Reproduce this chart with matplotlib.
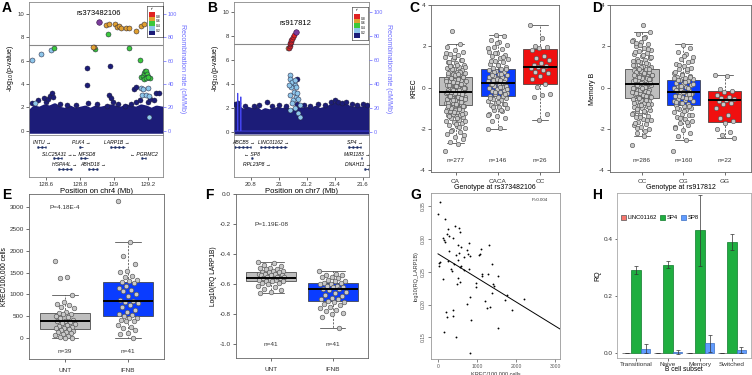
import numpy as np
import matplotlib
matplotlib.use("Agg")
import matplotlib.pyplot as plt
from matplotlib.patches import Rectangle

plt.rcParams['font.family'] = ['Liberation Sans', 'DejaVu Sans']
plt.rcParams['axes.unicode_minus'] = False

# ---------------- A: chr4 locus (rs373482106) ----------------
A_env_x = [128.50, 128.53, 128.56, 128.59, 128.62, 128.65, 128.68, 128.71, 128.74, 128.77, 128.80,
           128.83, 128.86, 128.89, 128.92, 128.95, 128.98, 129.01, 129.04, 129.07, 129.10, 129.13,
           129.16, 129.19, 129.22, 129.25, 129.29]
A_env_y = [1.6, 2.0, 1.9, 2.1, 2.0, 2.2, 1.9, 1.8, 2.0, 1.8, 1.9, 2.0, 1.8, 2.0, 1.9, 2.0, 2.1, 2.0,
           1.9, 2.1, 2.0, 1.9, 2.1, 2.0, 1.8, 2.0, 1.9]
A_navy = [(128.518, 2.37), (128.553, 2.6), (128.586, 2.8), (128.60, 2.5), (128.612, 2.7),
          (128.625, 2.95), (128.635, 3.2), (128.641, 2.9), (128.682, 2.3), (128.722, 2.2),
          (128.78, 2.2), (128.849, 2.37), (128.898, 2.3), (128.957, 2.15), (128.973, 3.08),
          (128.982, 2.8), (128.996, 2.5), (129.025, 2.3), (129.065, 2.15), (129.104, 2.3),
          (129.12, 3.6), (129.13, 3.75), (129.133, 2.5), (129.153, 2.6), (129.2, 2.5),
          (129.216, 2.7), (129.235, 2.6), (129.251, 3.25), (129.269, 3.2),
          (128.839, 5.36), (128.839, 3.93), (128.976, 5.58)]
A_lblue = [(128.516, 6.07), (128.572, 6.55), (128.628, 6.92), (129.163, 3.65), (129.172, 3.55),
           (129.20, 3.65), (129.168, 3.1), (129.188, 3.05), (129.205, 2.95), (128.535, 2.37),
           (129.21, 1.17)]
A_green = [(128.647, 7.07), (128.967, 8.26), (128.892, 7.0), (129.088, 7.04), (129.153, 6.07),
           (129.163, 4.59), (129.172, 4.7), (129.18, 4.95), (129.184, 5.13), (129.19, 5.07),
           (129.196, 4.87), (129.204, 4.64), (129.212, 4.5), (129.176, 4.45), (129.19, 4.5),
           (129.20, 4.6)]
A_orange = [(128.953, 9.06), (128.969, 9.14), (129.006, 9.11), (129.016, 8.85), (129.031, 8.97),
            (129.045, 8.74), (129.073, 8.77), (129.088, 8.74), (129.129, 8.52), (129.161, 8.97),
            (129.176, 9.12), (128.884, 7.2), (128.878, 7.12)]
A_red = []
A_lead = (128.912, 9.3)
A_genes = ['INTU', 'PLK4', 'LARP1B', 'SLC25A31', 'MFSD8', 'PGRMC2', 'HSPA4L', 'ABHD18']
A_gstart = [128.549, 128.794, 128.976, 128.643, 128.80, 129.163, 128.672, 128.849]
A_gend = [128.60, 128.82, 129.065, 128.692, 128.849, 129.192, 128.751, 128.908]
A_gstrand = ['+', '+', '+', '+', '-', '-', '+', '+']
A_grow = [0, 0, 0, 1, 1, 1, 2, 2]

# ---------------- B: chr7 locus (rs917812) ----------------
B_env_x = [20.68, 20.70, 20.72, 20.75, 20.78, 20.81, 20.84, 20.87, 20.90, 20.93, 20.96, 20.99,
           21.02, 21.05, 21.08, 21.11, 21.14, 21.17, 21.20, 21.23, 21.26, 21.29, 21.32, 21.35,
           21.38, 21.41, 21.44, 21.47, 21.50, 21.53, 21.56, 21.59, 21.62, 21.643]
B_env_y = [2.0, 2.2, 1.9, 1.7, 1.9, 1.8, 1.9, 1.6, 1.8, 1.7, 1.8, 1.9, 1.8, 1.9, 1.7, 1.8, 2.0,
           1.8, 1.9, 1.8, 2.0, 1.8, 1.9, 2.0, 2.2, 2.3, 2.1, 2.2, 2.0, 1.9, 2.0, 1.9, 2.0, 1.9]
B_navy = [(20.69, 2.3), (20.71, 2.4), (20.76, 2.1), (20.82, 2.1), (20.86, 2.2), (20.917, 2.5),
          (20.95, 2.1), (21.0, 2.2), (21.05, 2.1), (21.13, 2.3), (21.18, 2.2), (21.22, 2.1),
          (21.28, 2.3), (21.33, 2.2), (21.37, 2.5), (21.40, 2.6), (21.42, 2.5), (21.45, 2.4),
          (21.48, 2.5), (21.52, 2.3), (21.56, 2.2), (21.60, 2.3), (21.63, 2.2), (21.131, 4.36)]
B_lblue = [(21.076, 4.69), (21.083, 4.36), (21.093, 4.11), (21.112, 3.89), (21.124, 3.69),
           (21.088, 3.69), (21.105, 3.33), (21.083, 3.06), (21.119, 2.92), (21.136, 2.69),
           (21.10, 2.64), (21.148, 2.22), (21.117, 1.94), (21.083, 1.81), (21.136, 1.53),
           (21.148, 1.25), (21.093, 2.36), (21.126, 3.25), (21.071, 3.89), (21.112, 4.3)]
B_green = []
B_orange = [(21.067, 6.94)]
B_red = [(21.071, 7.0), (21.076, 7.17), (21.079, 7.3), (21.083, 7.42), (21.086, 7.5),
         (21.088, 7.6), (21.093, 7.75), (21.098, 7.92), (21.105, 8.05)]
B_lead = (21.119, 8.28)
B_recomb_x = [20.68, 20.705, 20.707, 20.709, 20.727, 20.729, 20.731, 21.643]
B_recomb_y = [0.5, 0.5, 32, 0.5, 0.5, 29, 0.5, 0.5]
B_genes = ['ABCB5', 'LINC01162', 'SP4', 'SP8', 'MIR1183', 'RPL23P8', 'DNAH11']
B_gstart = [20.683, 20.869, 21.493, 20.802, 21.585, 20.843, 21.61]
B_gend = [20.802, 21.06, 21.588, 20.814, 21.59, 20.847, 21.643]
B_gstrand = ['+', '+', '+', '-', '+', '+', '+']
B_grow = [0, 0, 0, 1, 1, 2, 2]

# ---------------- C: KREC by rs373482106 genotype ----------------
C_groups = ['CA', 'CACA', 'CC']
C_n = ['n=277', 'n=146', 'n=26']
C_box = [[-2.7, -0.85, -0.2, 0.5, 2.1], [-2.0, -0.4, 0.25, 0.88, 2.55], [-1.55, 0.18, 1.0, 1.87, 3.05]]
C_CA = [-3.05, -2.72, -2.62, -2.5, -2.38, -2.25, -2.15, -2.05, -1.95, -1.87, -1.8, -1.72, -1.66,
        -1.6, -1.54, -1.49, -1.44, -1.39, -1.34, -1.3, -1.26, -1.22, -1.18, -1.14, -1.1, -1.06,
        -1.02, -0.98, -0.94, -0.9, -0.86, -0.83, -0.8, -0.76, -0.72, -0.69, -0.66, -0.62, -0.58,
        -0.55, -0.52, -0.48, -0.45, -0.42, -0.38, -0.35, -0.32, -0.28, -0.25, -0.22, -0.18, -0.15,
        -0.12, -0.08, -0.05, -0.02, 0.02, 0.05, 0.08, 0.12, 0.15, 0.18, 0.22, 0.25, 0.28, 0.32,
        0.35, 0.38, 0.42, 0.45, 0.48, 0.52, 0.56, 0.6, 0.64, 0.68, 0.72, 0.76, 0.8, 0.85, 0.9,
        0.95, 1.0, 1.06, 1.12, 1.18, 1.25, 1.32, 1.4, 1.48, 1.56, 1.65, 1.75, 1.82, 1.95, 2.1, 2.75,
        -1.62, -1.47, -1.35, -1.28, -1.2, -1.12, -1.04, -0.96, -0.88, -0.81, -0.74, -0.67, -0.6,
        -0.53, -0.46, -0.4, -0.33, -0.27, -0.2, -0.13, -0.07, 0.0, 0.07, 0.13, 0.2, 0.27, 0.33,
        0.4, 0.47, 0.54, 0.62, 0.7, 0.78, 0.88, 0.98, 1.1, 1.22, 1.35, 1.5, 1.7, -1.9, -2.1, -2.3,
        -1.75, -0.9, -0.5, -0.1, 0.3, 0.65, 1.03]
C_CACA = [-2.02, -1.95, -1.6, -1.45, -1.35, -1.25, -1.15, -1.08, -1.0, -0.92, -0.85, -0.78, -0.72,
          -0.66, -0.6, -0.55, -0.5, -0.45, -0.4, -0.35, -0.3, -0.25, -0.2, -0.15, -0.1, -0.06,
          -0.02, 0.02, 0.06, 0.1, 0.14, 0.18, 0.22, 0.26, 0.3, 0.34, 0.38, 0.42, 0.46, 0.5, 0.54,
          0.58, 0.62, 0.66, 0.7, 0.75, 0.8, 0.85, 0.9, 0.96, 1.02, 1.08, 1.15, 1.22, 1.3, 1.38,
          1.45, 1.52, 1.6, 1.68, 1.75, 1.85, 1.95, 2.05, 2.2, 2.3, 2.5, 2.55,
          -1.3, -1.1, -0.95, -0.8, -0.68, -0.52, -0.38, -0.22, -0.08, 0.04, 0.16, 0.28, 0.4, 0.52,
          0.64, 0.77, 0.92, 1.1, 1.28, 1.48, 1.7, 1.9, 0.35, 0.6, -0.3, 2.15]
C_CC = [3.05, 2.4, 2.0, 1.95, 1.9, 1.8, 1.55, 1.45, 1.35, 1.2, 1.1, 1.05, 1.0, 0.95, 0.85, 0.75,
        0.7, 0.55, 0.4, 0.2, 0.05, -0.3, -0.35, -0.45, -1.25, -1.55]

# ---------------- D: Memory B by rs917812 genotype ----------------
D_groups = ['CC', 'CG', 'GG']
D_n = ['n=286', 'n=160', 'n=22']
D_box = [[-2.35, -0.5, 0.2, 0.9, 2.7], [-2.55, -0.82, -0.2, 0.38, 2.1], [-2.45, -1.65, -0.6, -0.18, 0.6]]
D_CC = [-2.75, -2.35, -2.2, -2.0, -1.9, -1.82, -1.75, -1.66, -1.58, -1.5, -1.43, -1.36, -1.3,
        -1.24, -1.18, -1.12, -1.06, -1.0, -0.95, -0.9, -0.85, -0.8, -0.75, -0.7, -0.65, -0.6,
        -0.55, -0.5, -0.45, -0.41, -0.37, -0.33, -0.29, -0.25, -0.21, -0.17, -0.13, -0.09, -0.05,
        -0.01, 0.03, 0.07, 0.11, 0.15, 0.19, 0.23, 0.27, 0.31, 0.35, 0.39, 0.43, 0.47, 0.51, 0.55,
        0.59, 0.63, 0.67, 0.71, 0.75, 0.8, 0.85, 0.9, 0.95, 1.0, 1.05, 1.1, 1.16, 1.22, 1.28,
        1.34, 1.4, 1.47, 1.54, 1.61, 1.68, 1.76, 1.84, 1.92, 2.0, 2.1, 2.2, 2.3, 2.45, 2.6, 2.7, 3.05,
        -1.7, -1.55, -1.4, -1.27, -1.15, -1.03, -0.92, -0.82, -0.72, -0.62, -0.52, -0.43, -0.35,
        -0.27, -0.19, -0.11, -0.03, 0.05, 0.13, 0.21, 0.29, 0.37, 0.45, 0.53, 0.61, 0.69, 0.78,
        0.88, 0.98, 1.08, 1.19, 1.31, 1.44, 1.58, 1.73, 1.88, 2.05, 2.25, -2.1, -1.95, 0.4, 0.0,
        0.6, -0.4, 0.9, 1.5, 2.4, 2.15, -0.8, 0.25]
D_CG = [-3.05, -2.55, -2.35, -2.2, -2.05, -1.92, -1.8, -1.7, -1.6, -1.5, -1.42, -1.34, -1.26,
        -1.18, -1.1, -1.03, -0.96, -0.9, -0.84, -0.78, -0.72, -0.66, -0.6, -0.55, -0.5, -0.45,
        -0.4, -0.35, -0.3, -0.25, -0.2, -0.15, -0.1, -0.05, 0.0, 0.05, 0.1, 0.15, 0.2, 0.25, 0.3,
        0.35, 0.4, 0.46, 0.52, 0.58, 0.65, 0.72, 0.8, 0.88, 0.96, 1.05, 1.15, 1.25, 1.38, 1.5,
        1.62, 1.75, 1.9, 2.05,
        -1.95, -1.65, -1.45, -1.3, -1.15, -1.0, -0.87, -0.75, -0.63, -0.52, -0.42, -0.32, -0.22,
        -0.12, -0.02, 0.08, 0.18, 0.28, 0.38, 0.5, 0.62, 0.76, 0.92, 1.1, 1.3, 1.55, -0.7, -0.3,
        0.1, 0.45]
D_GG = [0.6, 0.55, -0.05, -0.15, -0.2, -0.35, -0.45, -0.5, -0.55, -0.6, -0.65, -0.75, -0.8,
        -1.0, -1.3, -1.45, -1.6, -1.7, -2.0, -2.15, -2.3, -2.45]

# ---------------- E: KREC, UNT vs IFNB ----------------
E_groups = ['UNT', 'IFNB']
E_n = ['n=39', 'n=41']
E_box = [[0, 200, 390, 575, 980], [10, 500, 860, 1290, 2210]]
E_UNT = [1760, 1390, 1380, 980, 820, 790, 760, 700, 680, 590, 570, 560, 540, 500, 480, 450, 420,
         400, 390, 370, 350, 320, 300, 280, 250, 240, 230, 200, 190, 170, 150, 130, 110, 90, 70,
         50, 30, 10, 0]
E_IFNB = [3130, 2210, 1870, 1700, 1540, 1510, 1430, 1400, 1330, 1300, 1280, 1250, 1200, 1150,
          1100, 1070, 1000, 960, 880, 850, 830, 800, 760, 700, 650, 600, 560, 520, 500, 470, 450,
          420, 400, 380, 300, 250, 220, 180, 120, 100, 10]

# ---------------- F: log10 RQ LARP1B, UNT vs IFNB ----------------
F_n = ['n=41', 'n=41']
F_box = [[-0.66, -0.58, -0.56, -0.52, -0.45], [-0.89, -0.715, -0.635, -0.593, -0.515]]
F_UNT = [-0.45, -0.46, -0.47, -0.48, -0.49, -0.49, -0.50, -0.50, -0.51, -0.51, -0.52, -0.52,
         -0.52, -0.53, -0.53, -0.53, -0.54, -0.54, -0.54, -0.55, -0.55, -0.55, -0.56, -0.56,
         -0.56, -0.57, -0.57, -0.57, -0.58, -0.58, -0.58, -0.59, -0.59, -0.60, -0.61, -0.62,
         -0.63, -0.64, -0.65, -0.66, -0.55]
F_IFNB = [-0.515, -0.53, -0.54, -0.54, -0.55, -0.55, -0.56, -0.57, -0.58, -0.58, -0.59, -0.59,
          -0.60, -0.60, -0.61, -0.61, -0.62, -0.62, -0.63, -0.63, -0.64, -0.65, -0.66, -0.67,
          -0.68, -0.69, -0.70, -0.70, -0.71, -0.72, -0.72, -0.73, -0.74, -0.75, -0.76, -0.77,
          -0.78, -0.79, -0.80, -0.82, -0.89]

# ---------------- G: KREC vs log10 RQ LARP1B ----------------
G_krec = [43, 0, 180, 248, 530, 445, 556, 222, 282, 376, 120, 154, 188, 787, 504, 590, 1111, 1300,
          282, 744, 778, 830, 530, 453, 1043, 1086, 658, 60, 17, 248, 504, 419, 590, 17, 556, 333,
          350, 795, 667, 1385, 120, 504, 573, 487, 983, 1129, 1137, 1539, 1274, 1419, 1445, 1385,
          966, 812, 752, 1214, 1257, 1325, 1770, 1710, 1890, 2214, 214, 376, 393, 231, 855, 1539,
          154, 462, 829]
G_larp = [0.357, 0.338, 0.330, 0.315, 0.317, 0.319, 0.311, 0.307, 0.304, 0.302, 0.301, 0.298,
          0.295, 0.294, 0.291, 0.288, 0.284, 0.291, 0.282, 0.283, 0.277, 0.274, 0.278, 0.275,
          0.276, 0.277, 0.272, 0.265, 0.264, 0.266, 0.268, 0.262, 0.259, 0.258, 0.257, 0.254,
          0.251, 0.254, 0.252, 0.262, 0.239, 0.240, 0.234, 0.232, 0.233, 0.243, 0.246, 0.244,
          0.246, 0.231, 0.229, 0.218, 0.227, 0.212, 0.201, 0.206, 0.195, 0.196, 0.215, 0.207,
          0.191, 0.208, 0.189, 0.191, 0.182, 0.181, 0.176, 0.165, 0.158, 0.150, 0.126]

# ---------------- H: RQ by B cell subset ----------------
H_subsets = ['Transitional', 'Naive', 'Memory', 'Switched']
H_genes = ['LINC01162', 'SP4', 'SP8']
H_linc = [0.001, 0.001, 0.001, 0.001]
H_linc_err = [0, 0, 0, 0]
H_sp4 = [0.29, 0.31, 0.43, 0.39]
H_sp4_err = [0.014, 0.012, 0.125, 0.028]
H_sp8 = [0.016, 0.005, 0.035, 0.012]
H_sp8_err = [0.016, 0.006, 0.029, 0.011]

# ---------------- figure ----------------
W, H = 752, 375
fig = plt.figure(figsize=(W / 100, H / 100), dpi=100)


def px_axes(l, t, r, b):
    return fig.add_axes([l / W, 1 - b / H, (r - l) / W, (b - t) / H])


NAVY = '#1c1c78'
LD = {'navy': NAVY, 'lblue': '#8ec6ea', 'green': '#3cc83c', 'orange': '#e0a030', 'red': '#e02222'}
RECOMB = '#6b6bff'
GENE_C = '#22336a'


def frame(ax, col='#666666', lw=0.6):
    for s in ax.spines.values():
        s.set_color(col)
        s.set_linewidth(lw)


def locus(main_box, gene_box, env_x, env_y, pts, lead, lead_name, xlim, ylim, xticks, xlab,
          genes, leg_box, recomb=None):
    ax = px_axes(*main_box)
    ax.fill_between(env_x, 0, env_y, facecolor=NAVY, edgecolor=NAVY, lw=3.4, zorder=2,
                    joinstyle='round')
    for key in ['navy', 'lblue', 'green', 'orange', 'red']:
        p = pts[key]
        if p:
            x, y = zip(*p)
            ax.scatter(x, y, s=13, c=LD[key], edgecolors='#20203a', linewidths=0.35, zorder=3)
    ax.scatter([lead[0]], [lead[1]], s=16, c='#7b3d9c', edgecolors='#301040', linewidths=0.4,
               zorder=4)
    ax.text(lead[0], lead[1] + 0.75, lead_name, fontsize=5.5, ha='center', va='center')
    ax.axhline(7.3, color='#888888', lw=0.8, zorder=1)
    ax.set_xlim(xlim)
    ax.set_ylim(ylim)
    ax.set_xticks([])
    ax.set_yticks([0, 2, 4, 6, 8, 10])
    ax.tick_params(axis='y', length=2, width=0.5, labelsize=4.3, pad=1.5, colors='#333333')
    ax.set_ylabel(r'-log$_{10}$(p-value)', fontsize=5, labelpad=1)
    frame(ax, '#888888')
    ax2 = ax.twinx()
    ax2.set_ylim(ylim[0] * 10, ylim[1] * 10)
    ax2.set_yticks([0, 20, 40, 60, 80, 100])
    ax2.tick_params(axis='y', length=2, width=0.5, labelsize=4, pad=1.5, colors=RECOMB)
    ax2.set_ylabel('Recombination rate (cM/Mb)', fontsize=5, color=RECOMB, rotation=270,
                   labelpad=6)
    for s in ax2.spines.values():
        s.set_visible(False)
    if recomb is not None:
        ax2.plot(recomb[0], recomb[1], color='#4444ee', lw=0.6, zorder=1)

    # LD legend
    lg = px_axes(*leg_box)
    lg.set_xlim(0, 1)
    lg.set_ylim(0, 1)
    lg.set_xticks([])
    lg.set_yticks([])
    frame(lg, '#222222', 0.4)
    for i, key in enumerate(['red', 'orange', 'green', 'lblue', 'navy']):
        lg.add_patch(Rectangle((0.12, 0.8 - (i + 1) * 0.15), 0.35, 0.15, facecolor=LD[key],
                               edgecolor='none'))
    for i, t in enumerate(['0.8', '0.6', '0.4', '0.2']):
        lg.text(0.55, 0.8 - (i + 1) * 0.15, t, fontsize=2.4, va='center')
    lg.text(0.3, 0.9, 'r²', fontsize=2.8, ha='center', va='center')

    # gene track
    ag = px_axes(*gene_box)
    names, starts, ends, strands, rows = genes
    ag.set_xlim(xlim)
    ag.set_ylim(gene_box[3] - gene_box[1], 0)
    row_y = [11.7, 23.3, 34.0]
    span = xlim[1] - xlim[0]
    per_px = span / (gene_box[2] - gene_box[0])
    for n, s, e, st, r in zip(names, starts, ends, strands, rows):
        y = row_y[r]
        ag.plot([s, e], [y, y], color=GENE_C, lw=0.6, solid_capstyle='butt')
        ag.plot([s, e], [y, y], color=GENE_C, lw=1.8, dashes=(0.7, 0.9), solid_capstyle='butt')
        lab = n + ' \u2192' if st == '+' else '\u2190 ' + n
        hw = len(lab) * 1.35 * per_px
        cx = min(max((s + e) / 2, xlim[0] + hw), xlim[1] - hw)
        ag.text(cx, y - 4.2, lab, fontsize=3.6, style='italic', ha='center', va='center')
    ag.set_yticks([])
    ag.set_xticks(xticks)
    ag.set_xticklabels([('%g' % v) for v in xticks])
    ag.tick_params(axis='x', length=2, width=0.5, labelsize=4.3, pad=1.5, colors='#333333')
    ag.set_xlabel(xlab, fontsize=5.5, labelpad=0.5)
    frame(ag, '#888888')
    return ax


locus((29, 2, 163, 135), (29, 135, 163, 177), A_env_x, A_env_y,
      {'navy': A_navy, 'lblue': A_lblue, 'green': A_green, 'orange': A_orange, 'red': A_red},
      A_lead, 'rs373482106', (128.5, 129.29), (-0.35, 11.0), [128.6, 128.8, 129.0, 129.2],
      'Position on chr4 (Mb)', (A_genes, A_gstart, A_gend, A_gstrand, A_grow), (147, 6, 163, 37))

locus((234, 2, 369, 135), (234, 135, 369, 177), B_env_x, B_env_y,
      {'navy': B_navy, 'lblue': B_lblue, 'green': B_green, 'orange': B_orange, 'red': B_red},
      B_lead, 'rs917812', (20.68, 21.643), (-0.28, 10.8), [20.8, 21.0, 21.2, 21.4, 21.6],
      'Position on chr7 (Mb)', (B_genes, B_gstart, B_gend, B_gstrand, B_grow), (352, 7, 368, 40),
      recomb=(B_recomb_x, B_recomb_y))


# ---------------- box + jitter panels ----------------
def jitter(n, w):
    return ((np.arange(n) * 0.618034) % 1 - 0.5) * 2 * w


def box_panel(ax, stats, cols, series, jw, s=10, w=0.8, xpad=3.0):
    bs = [dict(whislo=v[0], q1=v[1], med=v[2], q3=v[3], whishi=v[4], fliers=[]) for v in stats]
    r = ax.bxp(bs, positions=range(1, len(bs) + 1), widths=w, patch_artist=True, showfliers=False,
               boxprops=dict(lw=0.5, edgecolor='#333333'),
               medianprops=dict(color='black', lw=1.4, zorder=6),
               whiskerprops=dict(color='#333333', lw=0.5, ls=(0, (3, 2))),
               capprops=dict(color='#333333', lw=0.5), capwidths=w / 2, manage_ticks=False)
    for b, c in zip(r['boxes'], cols):
        b.set_facecolor(c)
    for i, vals in enumerate(series):
        ax.scatter(i + 1 + jitter(len(vals), jw), vals, s=s, c='#c8c8c8', edgecolors='#555555',
                   linewidths=0.45, zorder=5)
    frame(ax, '#666666')
    ax.tick_params(length=2.2, width=0.5, labelsize=4.6, pad=1.5, colors='#333333')
    ax.tick_params(axis='x', pad=xpad)


GREY, BLUE, RED = '#bebebe', '#0a3cff', '#f01010'

axC = px_axes(431, 5, 559, 172)
box_panel(axC, C_box, [GREY, BLUE, RED], [C_CA, C_CACA, C_CC], 0.24, s=10)
axC.set_xlim(0.42, 3.45)
axC.set_ylim(-4.08, 4.0)
axC.set_yticks([-4, -2, 0, 2, 4])
axC.set_xticks([1, 2, 3])
axC.set_xticklabels(C_groups)
for i, t in enumerate(C_n):
    axC.text(i + 1, -3.5, t, fontsize=4.6, ha='center', va='center', color='#333333')
axC.set_ylabel('KREC', fontsize=5, labelpad=2)
axC.set_xlabel('Genotype at rs373482106', fontsize=5, labelpad=-0.5)

axD = px_axes(610, 5, 751, 172)
box_panel(axD, D_box, [GREY, BLUE, RED], [D_CC, D_CG, D_GG], 0.24, s=10)
axD.set_xlim(0.23, 3.63)
axD.set_ylim(-4.08, 4.0)
axD.set_yticks([-4, -2, 0, 2, 4])
axD.set_xticks([1, 2, 3])
axD.set_xticklabels(D_groups)
for i, t in enumerate(D_n):
    axD.text(i + 1, -3.5, t, fontsize=4.6, ha='center', va='center', color='#333333')
axD.set_ylabel('Memory B', fontsize=5, labelpad=2)
axD.set_xlabel('Genotype at rs917812', fontsize=5, labelpad=-0.5)

axE = px_axes(29, 194, 164, 359)
box_panel(axE, E_box, [GREY, BLUE], [E_UNT, E_IFNB], 0.16, s=11, xpad=4.5)
axE.set_xlim(0.43, 2.57)
axE.set_ylim(-480, 3300)
axE.set_yticks([0, 500, 1000, 1500, 2000, 2500, 3000])
axE.set_xticks([1, 2])
axE.set_xticklabels(E_groups)
for i, t in enumerate(E_n):
    axE.text(i + 1, -300, t, fontsize=4.6, ha='center', va='center', color='#333333')
axE.text(1.0, 2980, 'P=4.18E-4', fontsize=4.6, ha='center', va='center', color='#333333')
axE.set_ylabel('KREC/100,000 cells', fontsize=4.8, labelpad=2)

axF = px_axes(236, 194, 368, 358)
box_panel(axF, F_box, [GREY, BLUE], [F_UNT, F_IFNB], 0.22, s=11, w=0.82, xpad=4.5)
axF.set_xlim(0.43, 2.57)
axF.set_ylim(-1.093, 0.0)
axF.set_yticks([-1.0, -0.8, -0.6, -0.4, -0.2, 0.0])
axF.set_yticklabels(['%.1f' % v for v in [-1.0, -0.8, -0.6, -0.4, -0.2, 0.0]])
axF.set_xticks([1, 2])
axF.set_xticklabels(E_groups)
for i, t in enumerate(F_n):
    axF.text(i + 1, -1.0, t, fontsize=4.6, ha='center', va='center', color='#333333')
axF.text(1.0, -0.2, 'P=1.19E-08', fontsize=4.6, ha='center', va='center', color='#333333')
axF.set_ylabel('Log10(RQ LARP1B)', fontsize=4.8, labelpad=2)

# ---------------- G scatter ----------------
axG = px_axes(431, 193, 560, 359)
axG.scatter(G_krec, G_larp, s=1.8, c='black', linewidths=0, zorder=3)
slope, icpt = np.polyfit(G_krec, G_larp, 1)
gx = np.array([0, 3130])
axG.plot(gx, icpt + slope * gx, color='black', lw=0.7)
axG.set_xlim(-180, 3128)
axG.set_ylim(0.117, 0.37)
axG.set_xticks([0, 1000, 2000, 3000])
axG.set_yticks([0.15, 0.20, 0.25, 0.30, 0.35])
axG.set_yticklabels(['0.15', '0.20', '0.25', '0.30', '0.35'], rotation=90, va='center')
axG.tick_params(length=2, width=0.5, labelsize=3.6, pad=1.5, colors='#555555')
axG.set_xlabel('KREC/100,000 cells', fontsize=4, labelpad=1.5, color='#333333')
axG.set_ylabel('log10(RQ_LARP1B)', fontsize=4, labelpad=1.5, color='#333333')
axG.text(2615, 0.3586, 'P=0.004', fontsize=3.2, ha='center', va='center', color='#333333')
frame(axG, '#999999')

# ---------------- H bars ----------------
axH = px_axes(617, 193, 751, 358)
xs = np.arange(1, len(H_subsets) + 1)
bw = 0.3
hcols = ['#f8766d', '#1fae40', '#619cff']
hedges = ['#555555', '#0e7a2a', '#3a6ec0']
for k, (vals, errs) in enumerate([(H_linc, H_linc_err), (H_sp4, H_sp4_err), (H_sp8, H_sp8_err)]):
    axH.bar(xs + (k - 1) * bw, vals, width=bw, color=hcols[k], edgecolor=hedges[k], lw=0.5,
            label=H_genes[k], zorder=2)
    axH.errorbar(xs + (k - 1) * bw, vals, yerr=errs, fmt='none', ecolor='#333333', elinewidth=0.5,
                 capsize=1.2, capthick=0.5, zorder=3)
axH.set_xlim(0.4, 4.6)
axH.set_ylim(-0.0165, 0.561)
axH.set_xticks(xs)
axH.set_xticklabels(H_subsets)
axH.set_yticks([0.0, 0.2, 0.4])
axH.tick_params(length=1.8, width=0.5, labelsize=4.6, pad=1.0, colors='#333333')
axH.set_ylabel('RQ', fontsize=5, labelpad=2)
axH.set_xlabel('B cell subset', fontsize=4.8, labelpad=-0.5)
frame(axH, '#aaaaaa')
axH.legend(loc='center left', bbox_to_anchor=(0.0, 0.85), ncol=3, frameon=False, fontsize=4.2,
           handlelength=0.9, handleheight=0.9, handletextpad=0.3, columnspacing=0.5,
           borderaxespad=0.2)

# ---------------- panel letters ----------------
for lab, x, y in [('A', 7, 8), ('B', 212, 8), ('C', 414, 8), ('D', 597, 8),
                  ('E', 7, 195), ('F', 209, 195), ('G', 416, 195), ('H', 597, 195)]:
    fig.text(x / W, 1 - y / H, lab, fontsize=10, fontweight='bold', ha='center', va='center')

fig.savefig('out.png', dpi=100)
